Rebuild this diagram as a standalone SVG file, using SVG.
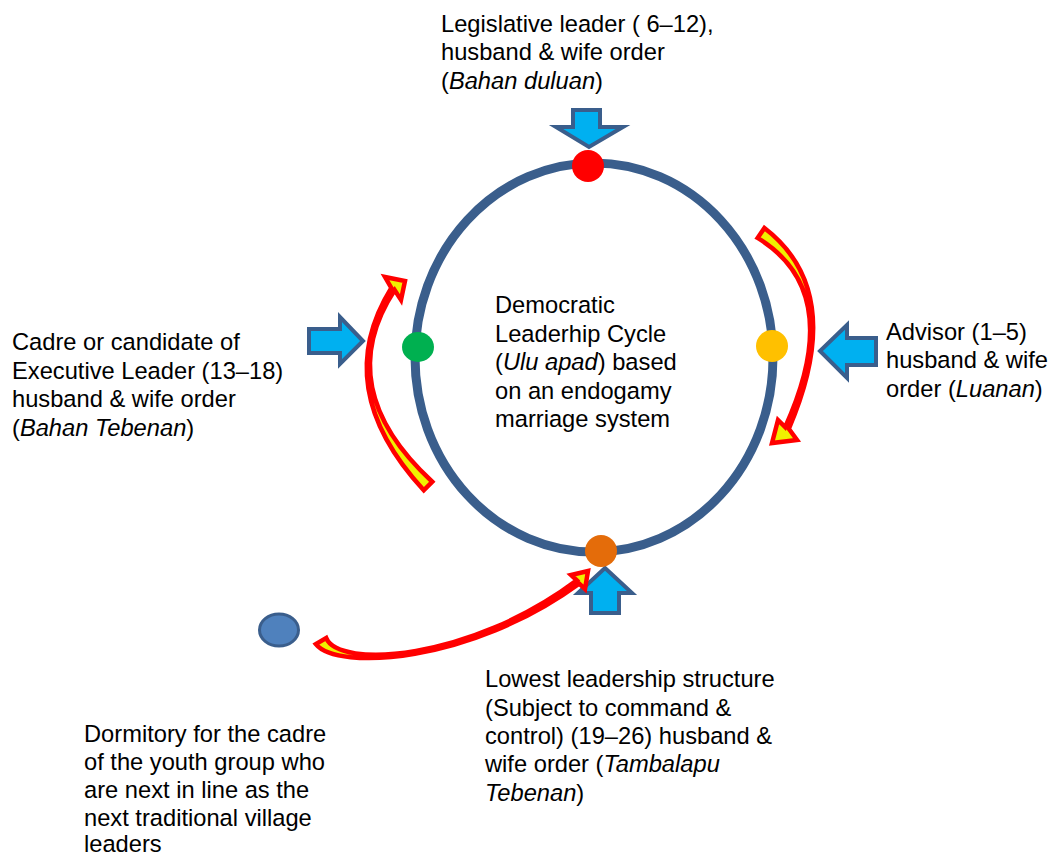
<svg xmlns="http://www.w3.org/2000/svg" width="1051" height="857" viewBox="0 0 1051 857">
<defs>
<style>
.t{font-family:"Liberation Sans",Arial,sans-serif;font-size:23.7px;fill:#000}
.i{font-style:italic}
.ba{fill:#00B0F0;stroke:#3A5E8C;stroke-width:4;stroke-linejoin:miter}
.ca{fill:#F0F000;stroke:#FF0000;stroke-width:4.5;stroke-linejoin:miter;stroke-miterlimit:3}
</style>
</defs>
<rect width="1051" height="857" fill="#fff"/>
<g id="cycle">
<ellipse cx="594" cy="357.5" rx="179" ry="194.5" fill="none" stroke="#3A5E8C" stroke-width="9"/>
</g>
<g id="connectors">
<path class="ba" d="M573,110 L600,110 L600,127 L623,127 L589,147 L556,127 L573,127 Z"/>
<path class="ba" d="M309,329 L340,329 L340,317 L363,341 L340,364 L340,353 L309,353 Z"/>
<path class="ba" d="M876,338 L847,338 L847,325 L820,351 L847,378 L847,365 L876,365 Z"/>
<path class="ba" d="M591,613 L591,593 L578,593 L605,568 L632,593 L619,593 L619,613 Z"/>
<path id="arrow-right" class="ca" d="M764.4,228.05 Q847.58,291.84 788.83,428.81 L797,440 L772,443 L778,420 L785.17,427.19 Q846.42,292.16 757.6,237.95 Z"/>
<path id="arrow-left" class="ca" d="M432.24,481.76 Q330.6,387.93 394.69,290.07 L401,300 L405,281 L385,277 L391.31,287.93 Q329.4,388.07 423.76,490.24 Z"/>
<path id="arrow-bottom" class="ca" d="M326.18,637.96 C338.57,668.94 469.59,660.87 576.81,580.39 L571,575 L588,571 L585,589 L579.19,583.61 C470.41,663.13 337.43,671.06 315.82,644.04 Z"/>
</g>
<g id="node-red"><circle cx="588" cy="166" r="16" fill="#FF0000"/></g>
<g id="node-green"><ellipse cx="418" cy="347" rx="16" ry="15" fill="#00B050"/></g>
<g id="node-yellow"><circle cx="772" cy="346" r="16" fill="#FFC000"/></g>
<g id="node-orange"><circle cx="601" cy="551" r="16" fill="#E46C0A"/></g>
<g id="node-dormitory-dot"><ellipse cx="279" cy="630" rx="19.5" ry="16" fill="#4F81BD" stroke="#3A5E8C" stroke-width="3"/></g>
<g id="label-legislative">
<text class="t" x="441" y="31.5">Legislative leader ( 6–12),</text>
<text class="t" x="441" y="60">husband &amp; wife order</text>
<text class="t" x="441" y="88.5">(<tspan class="i">Bahan duluan</tspan>)</text>
</g>
<g id="label-cadre">
<text class="t" x="12" y="350">Cadre or candidate of</text>
<text class="t" x="12" y="378.5">Executive Leader (13–18)</text>
<text class="t" x="12" y="407">husband &amp; wife order</text>
<text class="t" x="12" y="435.5">(<tspan class="i">Bahan Tebenan</tspan>)</text>
</g>
<g id="label-center">
<text class="t" x="495" y="313">Democratic</text>
<text class="t" x="495" y="341.5">Leaderhip Cycle</text>
<text class="t" x="495" y="370">(<tspan class="i">Ulu apad</tspan>) based</text>
<text class="t" x="495" y="398.5">on an endogamy</text>
<text class="t" x="495" y="427">marriage system</text>
</g>
<g id="label-advisor">
<text class="t" x="886" y="340">Advisor (1–5)</text>
<text class="t" x="886" y="368">husband &amp; wife</text>
<text class="t" x="886" y="396.5">order (<tspan class="i">Luanan</tspan>)</text>
</g>
<g id="label-lowest">
<text class="t" x="485" y="687">Lowest leadership structure</text>
<text class="t" x="485" y="715.5">(Subject to command &amp;</text>
<text class="t" x="485" y="744">control) (19–26) husband &amp;</text>
<text class="t" x="485" y="772">wife order (<tspan class="i">Tambalapu</tspan></text>
<text class="t" x="485" y="800.5"><tspan class="i">Tebenan</tspan>)</text>
</g>
<g id="label-dormitory">
<text class="t" x="84" y="742">Dormitory for the cadre</text>
<text class="t" x="84" y="770">of the youth group who</text>
<text class="t" x="84" y="798">are next in line as the</text>
<text class="t" x="84" y="826">next traditional village</text>
<text class="t" x="84" y="852">leaders</text>
</g>
</svg>
